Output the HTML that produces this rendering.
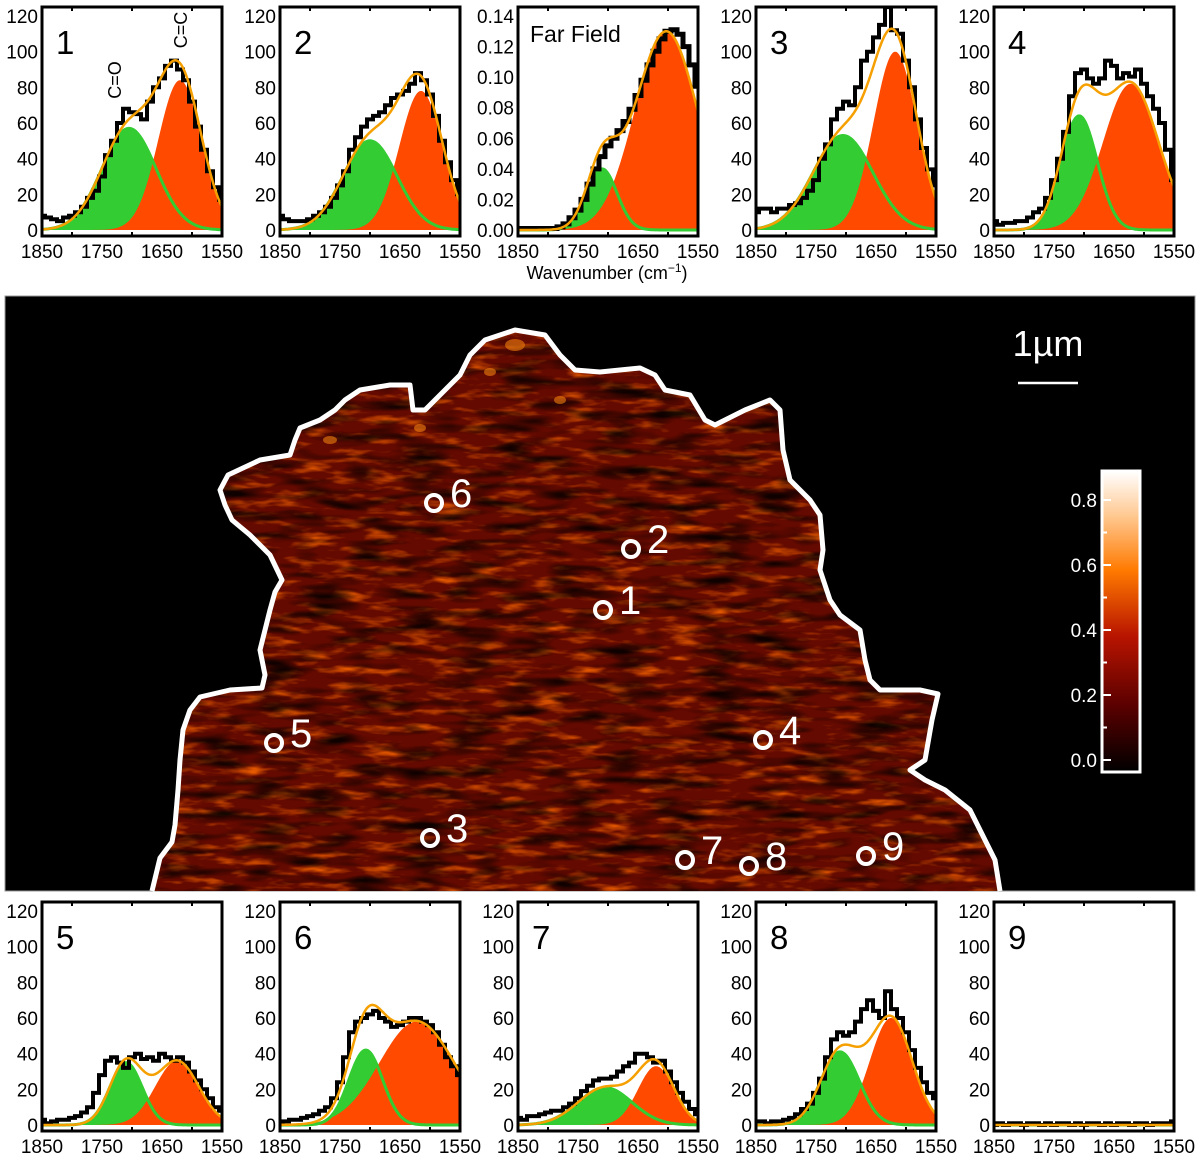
<!DOCTYPE html>
<html><head><meta charset="utf-8"><style>
html,body{margin:0;padding:0;background:#fff;}
svg{display:block;font-family:"Liberation Sans",sans-serif;}
</style></head><body>
<svg id="fig" width="1200" height="1162" viewBox="0 0 1200 1162" xmlns="http://www.w3.org/2000/svg">
<defs>
<linearGradient id="cbgrad" x1="0" y1="1" x2="0" y2="0">
<stop offset="0" stop-color="#000"/>
<stop offset="0.22" stop-color="#5a0000"/>
<stop offset="0.45" stop-color="#b81400"/>
<stop offset="0.67" stop-color="#ff7a00"/>
<stop offset="0.85" stop-color="#ffc890"/>
<stop offset="1" stop-color="#ffffff"/>
</linearGradient>
<filter id="tex" x="0" y="0" width="100%" height="100%">
<feTurbulence type="fractalNoise" baseFrequency="0.03 0.12" numOctaves="3" seed="7" result="n"/>
<feColorMatrix in="n" type="matrix" values="0 0 0 0 0.78  0 0 0 0 0.1  0 0 0 0 0  2.6 0 0 0 -1.3"/>
</filter>
<filter id="tex2" x="0" y="0" width="100%" height="100%">
<feTurbulence type="fractalNoise" baseFrequency="0.02 0.09" numOctaves="2" seed="3" result="n"/>
<feColorMatrix in="n" type="matrix" values="0 0 0 0 0  0 0 0 0 0  0 0 0 0 0  0 2.6 0 0 -1.15"/>
</filter>
<clipPath id="blobclip"><polygon id="blobpoly2" points=""/></clipPath>
</defs>
<g id="panels"></g>
<g id="map"></g>
</svg>
<script>
// ---------- spectral data ----------
const wavenumbers = [1850,1840,1830,1820,1810,1800,1790,1780,1770,1760,1750,1740,1730,1720,1710,1700,1690,1680,1670,1660,1650,1640,1630,1620,1610,1600,1590,1580,1570,1560,1550];
const panelLabels = ["1","2","Far Field","3","4","5","6","7","8","9"];
const yTicksCounts = [0,20,40,60,80,100,120];
const yTicksFar = [0.00,0.02,0.04,0.06,0.08,0.10,0.12,0.14];
const xTicks = [1850,1750,1650,1550];
const data1 = [8,7,6,5,7,8,10,13,18,22,30,42,50,60,68,66,65,62,72,80,85,92,95,90,84,72,58,45,33,24,17];
const data2 = [8,6,5,5,5,6,8,10,13,18,25,33,45,52,58,62,64,66,70,74,76,78,82,88,84,76,64,50,38,28,20];
const dataFar = [0.001,0.001,0.001,0.001,0.001,0.001,0.001,0.002,0.004,0.008,0.013,0.020,0.030,0.040,0.048,0.055,0.060,0.065,0.071,0.079,0.088,0.098,0.108,0.117,0.125,0.130,0.131,0.128,0.120,0.108,0.094];
const data3 = [10,12,12,10,12,12,14,15,18,22,28,40,48,62,68,72,70,80,95,100,108,115,125,112,110,95,80,62,46,34,25];
const data4 = [5,3,4,4,5,5,7,10,12,18,28,40,55,75,88,90,85,82,85,95,92,85,88,86,90,82,75,68,60,45,28];
const data5 = [3,1,2,3,3,4,5,7,10,18,28,36,38,35,32,38,40,37,38,36,40,38,36,38,35,30,25,20,15,10,8];
const data6 = [1,2,3,3,4,5,6,8,10,15,24,38,52,58,60,62,64,60,58,55,56,58,60,60,58,56,52,45,38,33,28];
const data7 = [4,3,5,5,6,7,8,8,10,12,15,19,22,25,26,26,27,30,33,35,40,40,38,35,36,30,24,18,13,9,6];
const data8 = [2,2,1,2,2,3,4,6,9,12,18,26,38,48,52,50,52,58,65,70,64,60,75,65,60,52,42,32,24,18,15];
const data9 = [0,1,0,1,1,0,1,1,0,1,0,1,1,0,1,0,1,1,0,1,0,1,1,0,1,1,0,1,1,1,2];
// Gaussian fit components: C=O (green) and C=C (red)
const greenAmp    = [57,50,0.040,53,64,35,42,21,41,0];
const greenCenter = [1705,1700,1710,1705,1708,1710,1707,1705,1710,1700];
const greenWidth  = [45,45,25,50,30,27,28,45,32,30];
const redAmp      = [84,78,0.130,100,82,36,58,33,60,0];
const redCenter   = [1620,1615,1603,1618,1622,1625,1622,1620,1625,1620];
const redWidth    = [36,36,52,36,46,36,62,30,35,35];
const allData = [data1,data2,dataFar,data3,data4,data5,data6,data7,data8,data9];

// ---------- layout (not data) ----------
const boxX = [42,280,518,756,994,42,280,518,756,994];
const rowTop = [7,7,7,7,7,902,902,902,902,902];
const BOXW = 180, BOXH = 229;
const NS = "http://www.w3.org/2000/svg";
function mk(tag, attrs, parent){const e=document.createElementNS(NS,tag);for(const k in attrs)e.setAttribute(k,attrs[k]);if(parent)parent.appendChild(e);return e;}
function gauss(x,a,c,s){return a*Math.exp(-(x-c)*(x-c)/(2*s*s));}

const panels = document.getElementById('panels');
for(let p=0;p<10;p++){
  const x0=boxX[p], y0=rowTop[p];
  const isFar = p===2;
  const ymax = isFar?0.14:120;
  const xs = w => x0 + (1850-w)/300*BOXW;
  const ys = v => (y0+BOXH-6) - v/ymax*(BOXH-15);
  const g = mk('g',{},panels);
  
  
  const cid='clip'+p;
  const cp=mk('clipPath',{id:cid},g); mk('rect',{x:x0,y:y0,width:BOXW,height:BOXH},cp);
  const plot=mk('g',{'clip-path':'url(#'+cid+')'},g);
  const fine=[]; for(let w=1850;w>=1550;w-=2) fine.push(w);
  let gp='M'+xs(1850)+','+ys(0), rp=gp, gl='', fl='';
  fine.forEach((w,i)=>{
    const gv=gauss(w,greenAmp[p],greenCenter[p],greenWidth[p]);
    const rv=gauss(w,redAmp[p],redCenter[p],redWidth[p]);
    gp+=' L'+xs(w).toFixed(1)+','+ys(gv).toFixed(1);
    rp+=' L'+xs(w).toFixed(1)+','+ys(rv).toFixed(1);
    gl+=(i?' L':'M')+xs(w).toFixed(1)+','+ys(gv).toFixed(1);
    fl+=(i?' L':'M')+xs(w).toFixed(1)+','+ys(gv+rv).toFixed(1);
  });
  gp+=' L'+xs(1550)+','+ys(0)+' Z'; rp+=' L'+xs(1550)+','+ys(0)+' Z';
  const gf=mk('path',{d:gp,fill:'#33cc33'},plot);
   
  const rf=mk('path',{d:rp,fill:'#ff4a00'},plot);
   
  const gs=mk('path',{d:gl,fill:'none',stroke:'#33cc33','stroke-width':3},plot);
   
  const d=allData[p]; let sp='';
  d.forEach((v,i)=>{const w=wavenumbers[i];
    sp+=(i?' L':'M')+xs(w+5).toFixed(1)+','+ys(v).toFixed(1)+' L'+xs(w-5).toFixed(1)+','+ys(v).toFixed(1);});
  const ds=mk('path',{d:sp,fill:'none',stroke:'#000','stroke-width':isFar?5:4,'stroke-linejoin':'miter'},plot);
   
  const ff=mk('path',{d:fl,fill:'none',stroke:'#f5a000','stroke-width':2.5},plot);
   
  const bx=mk('rect',{x:x0,y:y0,width:BOXW,height:BOXH,fill:'none',stroke:'#000','stroke-width':3},g);
   
  [1800,1700,1600].forEach(w=>{mk('line',{x1:xs(w),x2:xs(w),y1:y0,y2:y0+4,stroke:'#000','stroke-width':2},g);mk('line',{x1:xs(w),x2:xs(w),y1:y0+BOXH,y2:y0+BOXH-4,stroke:'#000','stroke-width':2},g);});
  const yt = isFar?yTicksFar:yTicksCounts;
  yt.forEach(v=>{
    const t=mk('text',{x:x0-4,y:ys(v)+7,'text-anchor':'end','font-size':19,fill:'#000'},g);
    t.textContent = isFar? v.toFixed(2): String(v);
     
  });
  xTicks.forEach(w=>{
    const t=mk('text',{x:xs(w),y:y0+BOXH+22,'text-anchor':'middle','font-size':19,fill:'#000'},g);
    t.textContent=String(w);
     
  });
  const lab=mk('text',{x:x0+(isFar?12:14),y:y0+(isFar?35:47),'font-size':isFar?23:33,fill:'#000'},g);
  lab.textContent=panelLabels[p];
   
}
</script>
<script>
// ---------- map ----------
const spotLabels = ["1","2","3","4","5","6","7","8","9"];
const spotX = [603,631,430,763,274,434,685,749,866];
const spotY = [610,549,838,740,743,503,860,866,856];
const cbTicks = [0.0,0.2,0.4,0.6,0.8];
const outline = [[152,891],[160,858],[172,842],[175,825],[178,790],[180,760],[183,730],[190,710],[200,697],[230,690],[262,688],[265,675],[260,650],[265,630],[270,610],[275,592],[282,580],[270,555],[250,535],[232,520],[225,505],[220,490],[228,475],[260,460],[290,455],[295,440],[300,428],[320,420],[335,410],[345,400],[360,390],[390,385],[410,385],[413,410],[425,410],[440,395],[460,375],[470,355],[485,340],[515,330],[545,335],[560,355],[575,370],[600,372],[640,368],[655,375],[665,390],[690,395],[705,420],[715,425],[745,410],[770,400],[780,410],[783,450],[790,480],[810,500],[820,515],[823,550],[820,570],[830,600],[840,615],[860,630],[865,660],[870,680],[880,690],[920,690],[938,694],[932,720],[925,760],[910,770],[925,780],[945,790],[970,810],[985,840],[995,860],[1000,891]];
(function(){
  const NS="http://www.w3.org/2000/svg";
  function mk(tag, attrs, parent){const e=document.createElementNS(NS,tag);for(const k in attrs)e.setAttribute(k,attrs[k]);if(parent)parent.appendChild(e);return e;}
  const m=document.getElementById('map');
  const bg=mk('rect',{x:5,y:296,width:1190,height:595,fill:'#000',stroke:'#999','stroke-width':1},m);
   
  const pts=outline.map(p=>p.join(',')).join(' ')+' 1000,891 152,891';
  document.getElementById('blobpoly2').setAttribute('points',pts);
  const blob=mk('g',{'clip-path':'url(#blobclip)'},m);
   
  mk('rect',{x:140,y:320,width:870,height:571,fill:'#640a00'},blob);
  mk('rect',{x:140,y:320,width:870,height:571,filter:'url(#tex)'},blob);
  mk('rect',{x:140,y:320,width:870,height:571,filter:'url(#tex2)',opacity:0.85},blob);
  [[515,345,10,6],[330,440,7,4],[420,428,6,4],[560,400,6,4],[490,372,6,4]].forEach(s=>{
    mk('ellipse',{cx:s[0],cy:s[1],rx:s[2],ry:s[3],fill:'#ff8a10',opacity:0.55},blob);});
  const ol=mk('polyline',{points:outline.map(p=>p.join(',')).join(' '),fill:'none',stroke:'#fff','stroke-width':5,'stroke-linejoin':'round'},m);
   
  spotLabels.forEach((l,i)=>{
    const c=mk('circle',{cx:spotX[i],cy:spotY[i],r:8,fill:'none',stroke:'#fff','stroke-width':4},m);
     
    const t=mk('text',{x:spotX[i]+16,y:spotY[i]+4,'font-size':40,fill:'#fff'},m);
    t.textContent=l;
     
  });
  const sbt=mk('text',{x:1048,y:356,'text-anchor':'middle','font-size':36,fill:'#fff'},m);
  sbt.textContent='1\u00b5m';
   
  const sb=mk('line',{x1:1018,x2:1078,y1:383,y2:383,stroke:'#fff','stroke-width':2.5},m);
   
  const cy=v=>760-v*325;
  const cb=mk('rect',{x:1102,y:471,width:38,height:301,fill:'url(#cbgrad)',stroke:'#fff','stroke-width':3},m);
   
  for(let k=0;k<9;k++){const v=k*0.1;mk('line',{x1:1102,x2:1102+(k%2?5:9),y1:cy(v),y2:cy(v),stroke:'#fff','stroke-width':2},m);}
  cbTicks.forEach(v=>{
    const t=mk('text',{x:1097,y:cy(v)+7,'text-anchor':'end','font-size':19,fill:'#fff'},m);
    t.textContent=v.toFixed(1);
     
  });
})();
</script>
<svg style="position:absolute;left:0;top:0" width="1200" height="300">
<text x="0" y="0" transform="translate(121,80) rotate(-90)" text-anchor="middle" font-family="Liberation Sans, sans-serif" font-size="18">C=O</text>
<text x="0" y="0" transform="translate(187,30) rotate(-90)" text-anchor="middle" font-family="Liberation Sans, sans-serif" font-size="18">C=C</text>
<text x="607" y="279" text-anchor="middle" font-family="Liberation Sans, sans-serif" font-size="18">Wavenumber (cm<tspan dy="-7" font-size="12">−1</tspan><tspan dy="7">)</tspan></text>
</svg>
</body></html>
